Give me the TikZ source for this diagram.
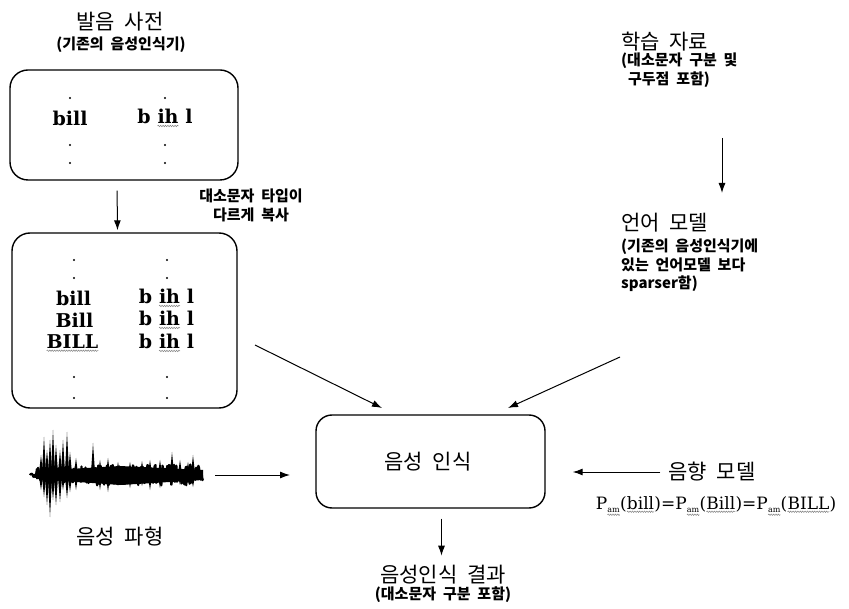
\documentclass[tikz,border=0pt]{standalone}
\usepackage{fontspec}
\usetikzlibrary{arrows.meta,decorations.pathmorphing}
\setmainfont{DejaVu Serif}
\newfontfamily\kr[WordSpace=2]{Noto Sans CJK KR}
\newfontfamily\lat{DejaVu Serif}
\newcommand\gw[1]{\tikz[baseline=(gwt.base)]{\node[inner sep=0pt,outer sep=0pt] (gwt) {#1};\draw[black!50, line width=0.5pt, decorate, decoration={snake, amplitude=0.7pt, segment length=2.4pt}] ([yshift=-2.5pt]gwt.base west) -- ([yshift=-2.5pt]gwt.base east);}}
\newcommand\pam{P\raisebox{-3pt}{\fontsize{8}{8}\selectfont\gw{am}}}
\begin{document}
\begin{tikzpicture}[x=1pt,y=-1pt]
\tikzset{
  box/.style={draw, line width=1.4pt, rounded corners=18pt, inner sep=0pt},
  arr/.style={-{Latex[length=10pt,width=7pt]}, line width=1pt},
  ttl/.style={font=\kr\fontsize{21}{24}\selectfont, inner sep=0pt},
  sub/.style={font=\kr\bfseries\fontsize{15}{19}\selectfont, inner sep=0pt, align=center},
  subl/.style={font=\kr\bfseries\fontsize{15}{19}\selectfont, inner sep=0pt, align=left, anchor=north west},
  lat/.style={font=\lat\bfseries\fontsize{19}{22}\selectfont, inner sep=0pt},
  dotn/.style={circle, fill, inner sep=0pt, minimum size=2.2pt},
}
\useasboundingbox (0,0) rectangle (849,609);

% pronunciation dictionary
\node[ttl] (dtitle) at (120,22) {발음 사전};
\node[sub] (dsub) at (121,45) {(기존의 음성인식기)};
\node[box, minimum width=228pt, minimum height=110pt] (dict) at (124,125) {};
\node[lat] (w1) at (70,118) {bill};
\node[lat] (p1) at (165,118) {b \gw{ih} l};
\foreach \yy [count=\k] in {98,145,163} {
  \node[dotn] (da\k) at (70,\yy) {};
  \node[dotn] (db\k) at (165,\yy) {};
}

% copied dictionary
\node[box, minimum width=225pt, minimum height=175pt] (box2) at (124.5,320.5) {};
\node[lat] (w2) at (73.5,298) {bill};
\node[lat] (w3) at (74.5,320) {Bill};
\node[lat] (w4) at (72.5,343) {\gw{BILL}};
\node[lat] (p2) at (166.5,298) {b \gw{ih} l};
\node[lat] (p3) at (166.5,320) {b \gw{ih} l};
\node[lat] (p4) at (166.5,343) {b \gw{ih} l};
\foreach \yy [count=\k] in {260,278,377,398} {
  \node[dotn] (ea\k) at (74,\yy) {};
  \node[dotn] (eb\k) at (167,\yy) {};
}
\draw[arr, shorten <=10pt, shorten >=2pt] ([xshift=-7pt]dict.south) -- ([xshift=-7pt]box2.north);
\node[sub] (copy) at (251,205) {대소문자 타입이\\다르게 복사};

% training data and language model
\node[ttl, anchor=west] (train) at (621,42) {학습 자료};
\node[subl] (trainsub) at (621,53) {(대소문자 구분 및\\\ 구두점 포함)};
\node[ttl, anchor=west] (lm) at (621,223) {언어 모델};
\node[subl, font=\kr\bfseries\fontsize{15}{18.5}\selectfont] (lmsub) at (621,239) {(기존의 음성인식기에\\있는 언어모델 보다\\sparser함)};
\coordinate (ta) at (722,138);
\coordinate (tb) at (722,193);
\draw[arr] (ta) -- (tb);

% speech recognition
\node[box, rounded corners=16pt, minimum width=229pt, minimum height=93pt] (asr) at (430.5,461.5) {};
\node[ttl] (asrt) at (428,462) {음성 인식};
\coordinate (b2a) at (255,345);
\coordinate (b2b) at (382,408);
\draw[arr] (b2a) -- (b2b);
\coordinate (lma) at (620,357);
\coordinate (lmb) at (508,408);
\draw[arr] (lma) -- (lmb);

% waveform
\pgfmathsetseed{11}
\draw[line width=2.2pt, line join=round] plot[domain=30:203, samples=300] (\x, {475 + (2.5+6*(\x>36)+2*(\x>95)-5*(\x>199))*rand});
\fill (36,471) -- (120,466) -- (203,470) -- (203,480) -- (120,485) -- (36,479) -- cycle;
\foreach \sx/\st/\sb in {41/455/490, 44/437/497, 47/450/505, 50/440/517, 53/430/500, 56/445/505, 60/450/502, 63/440/490, 67/432/498, 70/452/492, 76/458/490, 93/443/482, 100/460/490, 108/458/492, 118/462/486, 130/462/488, 142/461/486, 150/460/490, 160/460/488, 172/452/486, 180/460/485, 188/462/484, 193/455/487}
  \fill (\sx-2.2,475) -- (\sx,\st) -- (\sx+2.2,475) -- (\sx,\sb) -- cycle;
\node[ttl] (wavet) at (120,537) {음성 파형};
\coordinate (wa) at (215,475);
\coordinate (wb) at (290,475);
\draw[arr] (wa) -- (wb);

% acoustic model
\node[ttl] (am) at (712,472) {음향 모델};
\draw[arr, shorten <=8pt] (am.west) -- ([xshift=27pt]asr.east |- am.west);
\node[font=\lat\fontsize{17}{20}\selectfont, inner sep=0pt] (amf) at (716,506) {\pam(\gw{bill})=\pam(\gw{Bill})=\pam(\gw{BILL})};

% result
\draw[arr, shorten <=10pt, shorten >=2pt] ([xshift=11pt]asr.south) -- ++(0,49);
\node[ttl] (res) at (443,575) {음성인식 결과};
\node[sub] (ressub) at (443,595) {(대소문자 구분 포함)};
\end{tikzpicture}
\end{document}
